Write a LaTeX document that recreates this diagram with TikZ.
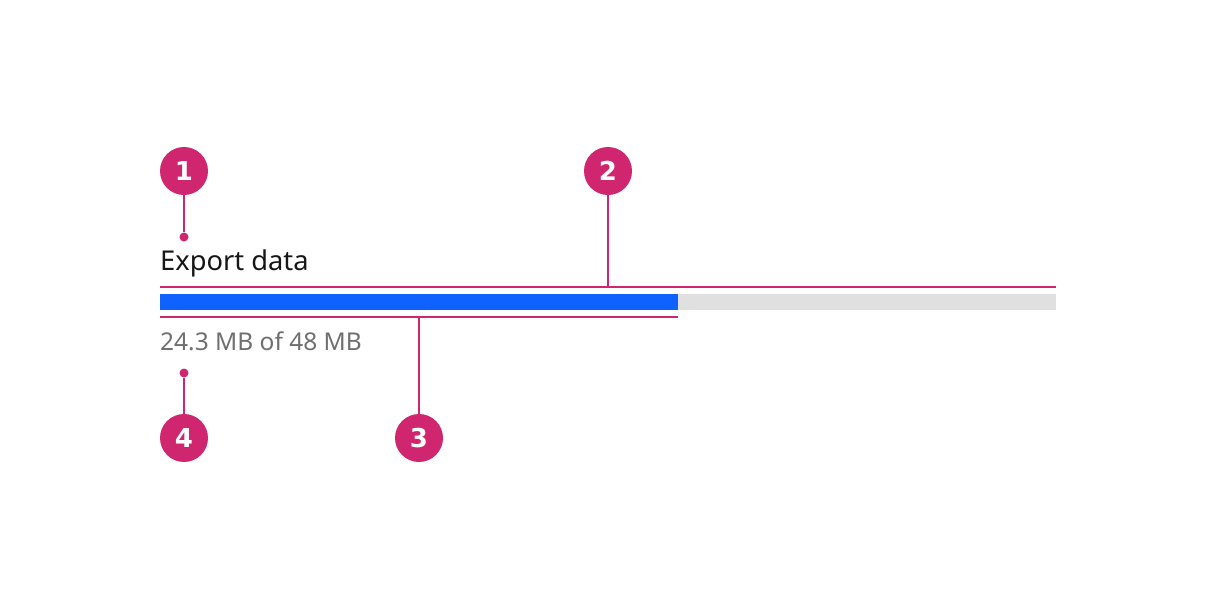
\documentclass[tikz,border=0pt]{standalone}
\usepackage{fontspec}
\setmainfont{Noto Sans}
\newfontfamily\badgefont{DejaVu Sans}[UprightFont=* Bold]
\definecolor{mag}{HTML}{D02670}
\definecolor{cblue}{HTML}{0F62FE}
\definecolor{cgray}{HTML}{E0E0E0}
\definecolor{ctext}{HTML}{161616}
\definecolor{chelp}{HTML}{6F6F6F}
\tikzset{
  badge/.style={circle,fill=mag,minimum size=48pt,inner sep=0pt,text=white,font=\badgefont\fontsize{26}{26}\selectfont},
  pin/.style={circle,fill=mag,minimum size=9pt,inner sep=0pt},
  leader/.style={draw=mag,line width=2pt},
  lbl/.style={anchor=base west,inner sep=0pt}
}
\begin{document}
\begin{tikzpicture}[x=1pt,y=-1pt]
\useasboundingbox (0,0) rectangle (1216,608);
% bar
\fill[cgray] (160,294) rectangle (1056,310);
\fill[cblue] (160,294) rectangle (678,310);
% texts
\node[lbl,text=ctext,font=\fontsize{27.3}{27.3}\selectfont] (title) at (160,270) {Export data};
\node[lbl,text=chelp,font=\fontsize{24.5}{24.5}\selectfont] (help) at (160,350) {24.3 MB of 48 MB};
% measure lines
\coordinate (tl) at (160,287);
\coordinate (tr) at (1056,287);
\coordinate (bl) at (160,317);
\coordinate (br) at (678,317);
\draw[leader] (tl) -- (tr);
\draw[leader] (bl) -- (br);
\coordinate (t2) at (608,287);
\coordinate (b3) at (419,317);
% badges
\node[badge] (n1) at (184,171) {1};
\node[badge] (n2) at (608,171) {2};
\node[badge] (n3) at (419,438) {3};
\node[badge] (n4) at (184,438) {4};
\node[pin] (p1) at (184,237) {};
\node[pin] (p4) at (184,373) {};
\draw[leader] (n1) -- (p1);
\draw[leader] (n4) -- (p4);
\draw[leader] (n2) -- (t2);
\draw[leader] (n3) -- (b3);
\end{tikzpicture}
\end{document}
